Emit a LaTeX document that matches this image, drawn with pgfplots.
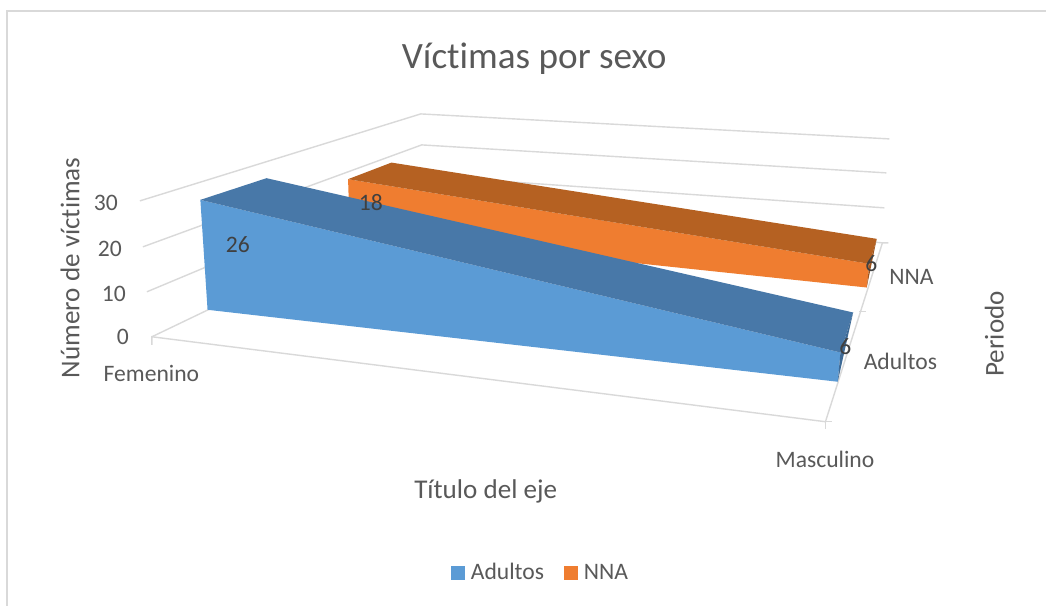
\documentclass[border=0pt]{standalone}
\usepackage{pgfplots}
\pgfplotsset{compat=1.18}
\usepackage{fontspec}
\setmainfont[Ligatures=NoCommon]{Carlito}
\definecolor{grid}{HTML}{D9D9D9}
\definecolor{txt}{HTML}{595959}
\definecolor{dl}{HTML}{404040}
\definecolor{blueF}{HTML}{5B9BD5}
\definecolor{blueT}{HTML}{4878A8}
\definecolor{blueS}{HTML}{3E6A96}
\definecolor{orF}{HTML}{EF7D30}
\definecolor{orT}{HTML}{B56122}
\definecolor{orS}{HTML}{9F551D}
\tikzset{
  gridline/.style={draw=grid, line width=1.4pt},
  lbl/.style={text=txt, font=\fontsize{23.6}{26}\selectfont, inner sep=0pt},
  lblb/.style={text=txt, font=\fontsize{27.1}{30}\selectfont, inner sep=0pt},
  dlab/.style={text=dl, font=\fontsize{23.6}{26}\selectfont, inner sep=0pt},
}
\begin{document}
\begin{tikzpicture}
\begin{axis}[
  scale only axis, width=1047pt, height=606pt,
  xmin=0, xmax=1047, ymin=0, ymax=606, y dir=reverse,
  axis lines=none, clip=false,
]
% page background fixes the picture's extent
\addplot[fill=white, draw=none] coordinates {(0,0) (1047,0) (1047,606) (0,606)};
% chart border
\addplot[draw=grid, line width=1.4pt] coordinates {(7,606) (7,11) (1047,11)};
% walls: value gridlines 30, 20, 10, 0
\addplot[gridline] coordinates {(140,201) (421,114) (890,139)};
\addplot[gridline] coordinates {(143,247) (422,145) (887,173)};
\addplot[gridline] coordinates {(147,292) (424,176) (885,208)};
\addplot[gridline] coordinates {(152,337) (425,206) (883,243)};
% floor
\addplot[gridline] coordinates {(152,345) (152,337) (826,422) (883,243) (889,243)};
\addplot[gridline] coordinates {(860,312) (867,312)};
\addplot[gridline] coordinates {(826,429) (826,422) (833,422)};
% NNA series: 18 -> 6
\addplot[fill=orF, draw=none] coordinates {(348.3,179.3) (870,264) (867.3,287.7) (350,233) (348.3,179.3)};
\addplot[fill=orT, draw=none] coordinates {(348.3,179.3) (391.7,162.7) (877.3,239) (870,264)};
\addplot[fill=orS, draw=none] coordinates {(870,264) (877.3,239) (867.3,287.7)};
% Adultos series: 26 -> 6
\addplot[fill=blueF, draw=none] coordinates {(200.5,200) (841,352.7) (838.3,382) (207.7,310)};
\addplot[fill=blueT, draw=none] coordinates {(200.5,200) (266.7,178.3) (853.7,312.7) (841,352.7)};
\addplot[fill=blueS, draw=none] coordinates {(841,352.7) (853.7,312.7) (838.3,382)};
% legend swatches
\addplot[fill=blueF, draw=none] coordinates {(451,566) (465,566) (465,580) (451,580)};
\addplot[fill=orF, draw=none] coordinates {(564,566) (578,566) (578,580) (564,580)};
% texts
\node[text=txt, font=\fontsize{37.2}{40}\selectfont, inner sep=0pt] at (axis cs:534.5,59) {Víctimas por sexo};
\node[lbl] at (axis cs:106,203) {30};
\node[lbl] at (axis cs:110,249) {20};
\node[lbl] at (axis cs:114,294) {10};
\node[lbl] at (axis cs:123,337) {0};
\node[lblb, rotate=90] at (axis cs:70,268) {Número de víctimas};
\node[lbl] at (axis cs:151.5,374) {Femenino};
\node[lbl] at (axis cs:825.5,460) {Masculino};
\node[lblb] at (axis cs:486,492) {Título del eje};
\node[lbl] at (axis cs:912,277) {NNA};
\node[lbl] at (axis cs:901,362) {Adultos};
\node[lblb, rotate=90] at (axis cs:995,334) {Periodo};
\node[dlab] at (axis cs:238,245) {26};
\node[dlab] at (axis cs:371,203) {18};
\node[dlab] at (axis cs:872,264) {6};
\node[dlab] at (axis cs:846,347) {6};
\node[lbl, anchor=west] at (axis cs:471,572) {Adultos};
\node[lbl, anchor=west] at (axis cs:584,572) {NNA};
\end{axis}
\end{tikzpicture}
\end{document}
